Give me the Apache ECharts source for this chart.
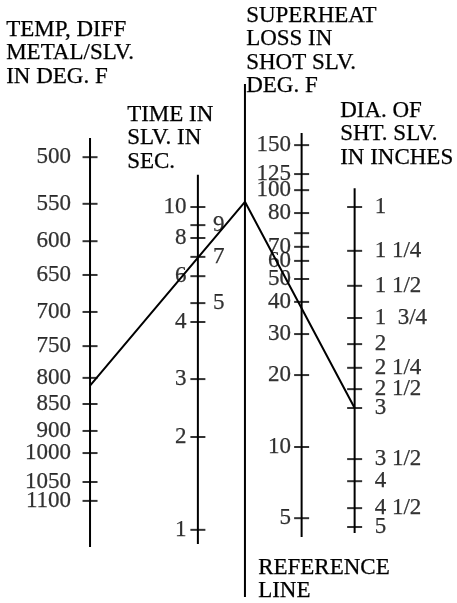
<!DOCTYPE html>
<html><head><meta charset="utf-8">
<script src="https://cdn.jsdelivr.net/npm/echarts@6/dist/echarts.min.js"></script>
<style>html,body{margin:0;padding:0;background:#fff}#c{width:457px;height:603px}</style>
</head><body><div id="c"></div>
<script>
// ---- Nomogram data: tick labels and their positions along the scales (scale units, 0 = bottom, 150 = top)
const tempLabels = ['500','550','600','650','700','750','800','850','900','1000','1050','1100'];
const tempPos    = [110.9, 99.3, 90.0, 81.6, 72.4, 63.9, 56.0, 49.5, 42.8, 37.3, 30.1, 25.4];
const tempRange  = [13.9, 115.7];

const timeLabels = ['10','9','8','7','6','5','4','3','2','1'];
const timePos    = [98.5, 94.0, 90.8, 86.1, 81.3, 74.6, 69.9, 55.7, 41.3, 18.2];
const timeSides  = ['left','right','left','right','left','right','left','left','left','left'];
const timeRange  = [14.7, 106.5];

const heatLabels = ['150','125','100','80','','70','60','50','40','30','20','10','5'];
const heatPos    = [113.9, 106.7, 102.7, 97.0, 92.0, 88.6, 85.1, 80.6, 74.9, 66.9, 56.7, 38.8, 21.1];
const heatRange  = [16.4, 116.9];

const diaLabels = ['1','1 1/4','1 1/2','1  3/4','2','2 1/4','2 1/2','3','3 1/2','4','4 1/2','5'];
const diaPos    = [98.5, 87.6, 78.9, 70.9, 64.4, 58.5, 53.2, 48.5, 35.8, 30.3, 23.6, 18.9];
const diaRange  = [17.4, 103.2];

const refRange = [1.5, 129.1];

// example solution: temp difference 815 F, pivot on reference line, sleeve dia 3 in
const exampleTemp = 815;
const exampleRefPos = 99.8;
const exampleDia = '3';

// ---- layout (column positions on the x scale 0..100)
const COL = { temp: 19.7, time: 43.3, ref: 53.6, heat: 66.0, dia: 77.6 };
const FONT = 'Liberation Serif';
const FS = 23;
const STROKE = 0.25;

function interpPos(v, labels, pos) {
  const nums = labels.map(Number);
  for (let i = 0; i < nums.length - 1; i++) {
    const a = nums[i], b = nums[i + 1];
    if ((v - a) * (v - b) <= 0) return pos[i] + (v - a) / (b - a) * (pos[i + 1] - pos[i]);
  }
  return pos[0];
}

function axisLine(x, range) {
  return { type: 'line', data: [[x, range[0]], [x, range[1]]], symbol: 'none', silent: true,
    lineStyle: { color: '#000', width: 2 }, z: 2, clip: false };
}
function ticks(x, labels, pos, sides, dist) {
  return { type: 'scatter', symbol: 'rect', symbolSize: [15, 2], clip: false, z: 3, silent: true,
    itemStyle: { color: '#000' },
    data: labels.map((l, i) => {
      const side = sides[i];
      return { value: [x, pos[i]], name: l,
        label: { show: l !== '', position: side, distance: dist[side], formatter: l,
          fontFamily: FONT, fontSize: FS, color: '#000',
          textBorderColor: '#000', textBorderWidth: STROKE } };
    }) };
}
function fill(n, s) { return new Array(n).fill(s); }

const series = [
  axisLine(COL.temp, tempRange),
  ticks(COL.temp, tempLabels, tempPos, fill(tempLabels.length, 'left'), { left: 11.5 }),
  axisLine(COL.time, timeRange),
  ticks(COL.time, timeLabels, timePos, timeSides, { left: 4, right: 7.5 }),
  axisLine(COL.ref, refRange),
  axisLine(COL.heat, heatRange),
  ticks(COL.heat, heatLabels, heatPos, fill(heatLabels.length, 'left'), { left: 3 }),
  axisLine(COL.dia, diaRange),
  ticks(COL.dia, diaLabels, diaPos, fill(diaLabels.length, 'right'), { right: 12.5 }),
  { type: 'line', symbol: 'none', silent: true, z: 4, clip: false,
    lineStyle: { color: '#000', width: 2 },
    data: [[COL.temp, interpPos(exampleTemp, tempLabels, tempPos)],
           [COL.ref, exampleRefPos],
           [COL.dia, diaPos[diaLabels.indexOf(exampleDia)]]] }
];

function heading(text, left, top) {
  return { type: 'text', left: left, top: top, silent: true,
    style: { text: text, fontFamily: FONT, fontSize: FS, lineHeight: 23.5, fill: '#000',
      stroke: '#000', lineWidth: STROKE } };
}

const chart = echarts.init(document.getElementById('c'), null, { renderer: 'canvas' });
chart.setOption({
  animation: false,
  backgroundColor: '#fff',
  grid: { left: 0, right: 0, top: 0, bottom: 0 },
  xAxis: { type: 'value', min: 0, max: 100, show: false },
  yAxis: { type: 'value', min: 0, max: 150, show: false },
  series: series,
  graphic: [
    heading('TEMP, DIFF\nMETAL/SLV.\nIN DEG. F', 6, 18),
    heading('TIME IN\nSLV. IN\nSEC.', 127, 103),
    heading('SUPERHEAT\nLOSS IN\nSHOT SLV.\nDEG. F', 246, 4),
    heading('DIA. OF\nSHT. SLV.\nIN INCHES', 340, 99),
    heading('REFERENCE\nLINE', 258, 556)
  ]
});
</script>
</body></html>
